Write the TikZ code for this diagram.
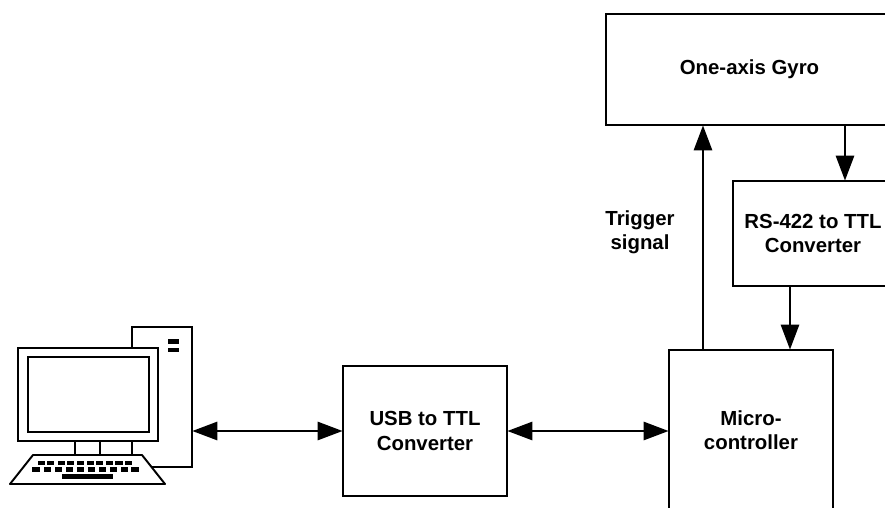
\documentclass[tikz,border=0pt]{standalone}
\usepackage{fontspec}
\setmainfont{Liberation Sans}
\usetikzlibrary{arrows.meta}
\tikzset{
  block/.style={draw,line width=0.6pt,inner sep=0pt,align=center,font=\fontsize{5.8}{6.9}\selectfont\bfseries},
  part/.style={draw,line width=0.55pt,fill=white,inner sep=0pt},
  link/.style={line width=0.8pt,shorten >=-0.2pt,-{Triangle[length=0.25cm,width=0.18cm]}},
  dlink/.style={line width=0.8pt,shorten >=-0.2pt,shorten <=-0.2pt,{Triangle[length=0.25cm,width=0.18cm]}-{Triangle[length=0.25cm,width=0.18cm]}},
  key/.style={fill=black,inner sep=0pt,minimum width=0.07cm,minimum height=0.045cm}
}
\begin{document}
\begin{tikzpicture}
\useasboundingbox (0,0) rectangle (8.85,5.07);
\clip (0,0) rectangle (8.85,5.07);
\node[block,minimum width=2.87cm,minimum height=1.11cm] (gyro) at (7.495,4.375) {One-axis Gyro};
\node[block,minimum width=1.60cm,minimum height=1.05cm] (rs) at (8.13,2.735) {RS-422 to TTL\\Converter};
\node[block,minimum width=1.64cm,minimum height=1.60cm] (micro) at (7.51,0.77) {Micro-\\controller};
\node[block,minimum width=1.64cm,minimum height=1.30cm] (usb) at (4.25,0.76) {USB to TTL\\Converter};
\node[align=center,inner sep=0pt,font=\fontsize{5.8}{6.9}\selectfont\bfseries] (trigger) at (6.40,2.75) {Trigger\\signal};

\node[part,minimum width=0.60cm,minimum height=1.40cm] (tower) at (1.62,1.10) {};
\node[key,minimum width=0.11cm,minimum height=0.05cm] (slota) at (1.735,1.66) {};
\node[key,minimum width=0.11cm,minimum height=0.04cm] (slotb) at (1.735,1.57) {};
\draw[part] (0.75,0.66) rectangle (1.00,0.52) (1.00,0.66) rectangle (1.32,0.52);
\node[part,minimum width=1.40cm,minimum height=0.93cm] (monitor) at (0.88,1.125) {};
\node[part,minimum width=1.21cm,minimum height=0.75cm] (screen) at (0.885,1.125) {};
\draw[part,line join=round] (0.33,0.52) -- (1.42,0.52) -- (1.65,0.23) -- (0.10,0.23) -- cycle;
\foreach \x in {0.417,0.51,0.613,0.707,0.807,0.907,1.0,1.093,1.19,1.283}
  \node[key] at (\x,0.44) {};
\foreach \x in {0.36,0.473,0.583,0.693,0.803,0.917,1.027,1.137,1.243,1.35}
  \node[key] at (\x,0.375) {};
\node[key,minimum width=0.51cm,minimum height=0.05cm] (space) at (0.875,0.305) {};

\coordinate (up) at (7.03,0);
\coordinate (down) at (8.45,0);
\coordinate (in) at (7.90,0);
\draw[dlink] (tower.east |- usb.west) -- (usb.west);
\draw[dlink] (usb.east) -- (micro.west |- usb.east);
\draw[link] (micro.north -| up) -- (gyro.south -| up);
\draw[link] (gyro.south -| down) -- (rs.north -| down);
\draw[link] (rs.south -| in) -- (micro.north -| in);
\end{tikzpicture}
\end{document}
